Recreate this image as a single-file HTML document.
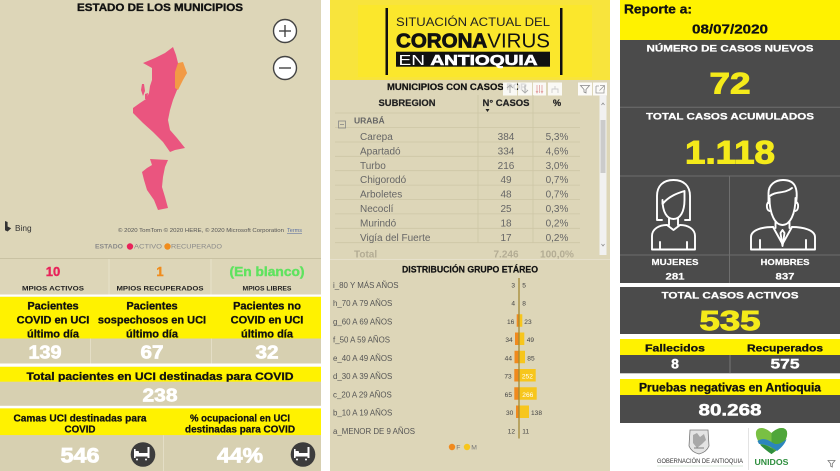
<!DOCTYPE html>
<html>
<head>
<meta charset="utf-8">
<style>
  html,body{margin:0;padding:0;background:#fff;}
  body{width:840px;height:471px;overflow:hidden;}
  svg{display:block;}
</style>
</head>
<body>
<svg width="840" height="471" viewBox="0 0 840 471" xmlns="http://www.w3.org/2000/svg" font-family="'Liberation Sans', Arial, sans-serif">
  <rect x="0" y="0" width="840" height="471" fill="#ffffff"/>

  <!-- ================= LEFT PANEL ================= -->
  <rect x="0" y="0" width="321" height="471" fill="#ddd6b8"/>
  <text x="160" y="11.2" font-size="11.2" font-weight="bold" text-anchor="middle" fill="#111" stroke="#111" stroke-width="0.35" textLength="166" lengthAdjust="spacingAndGlyphs">ESTADO DE LOS MUNICIPIOS</text>

  <!-- map -->
  <polygon points="173,47 176,55 178,63 187,73 182,80 177,90 173,100 170,110 168,120 170,130 177,138 185,148 175,150 170,152 163,142 153,132 143,123 133,113 133,108 140,103 146,99 149,93 150,86 152,80 152,68 143,63 155,58 165,53" fill="#ea557f"/>
  <polygon points="178,63 183,62 187,73 183,80 178,90 175,88 175,72" fill="#f29a45"/>
  <polygon points="142,84 144,84 145,91 143,96 141,90" fill="#ea557f"/>
  <polygon points="145,94 148,93 147,99 145,99" fill="#ea557f"/>
  <polygon points="150,159 168,160 165,167 163,177 162,187 165,197 168,208 158,210 154,200 147,190 144,180 142,172 147,168 152,165" fill="#ea557f"/>

  <!-- zoom buttons -->
  <circle cx="285" cy="31" r="11.5" fill="#ffffff" stroke="#444" stroke-width="1.4"/>
  <line x1="279" y1="31" x2="291" y2="31" stroke="#444" stroke-width="1.4"/>
  <line x1="285" y1="25" x2="285" y2="37" stroke="#444" stroke-width="1.4"/>
  <circle cx="285" cy="68" r="11.5" fill="#ffffff" stroke="#444" stroke-width="1.4"/>
  <line x1="279" y1="68" x2="291" y2="68" stroke="#444" stroke-width="1.4"/>

  <!-- bing -->
  <path d="M5,221 L7.6,222 L7.6,226.5 L11.2,228.3 L7.6,231.5 L5,230.3 Z" fill="#333"/>
  <text x="15" y="231" font-size="8.3" fill="#333">Bing</text>
  <text x="118" y="232" font-size="5.6" fill="#555" textLength="166" lengthAdjust="spacingAndGlyphs">© 2020 TomTom © 2020 HERE, © 2020 Microsoft Corporation</text>
  <text x="287" y="232" font-size="5.6" fill="#5a6fa0" text-decoration="underline" textLength="15" lengthAdjust="spacingAndGlyphs">Terms</text>

  <!-- legend -->
  <text x="95" y="248.6" font-size="6.3" font-weight="bold" fill="#8a8a8a" textLength="28" lengthAdjust="spacingAndGlyphs">ESTADO</text>
  <circle cx="130" cy="246.5" r="3.2" fill="#e8235a"/>
  <text x="134" y="248.6" font-size="6.3" fill="#8a8a8a" textLength="28" lengthAdjust="spacingAndGlyphs">ACTIVO</text>
  <circle cx="167.5" cy="246.5" r="3.2" fill="#f08c1c"/>
  <text x="171" y="248.6" font-size="6.3" fill="#8a8a8a" textLength="51" lengthAdjust="spacingAndGlyphs">RECUPERADO</text>

  <line x1="0" y1="258.5" x2="321" y2="258.5" stroke="#c9c2a3" stroke-width="1"/>

  <!-- stats row -->
  <line x1="109" y1="259" x2="109" y2="295" stroke="#e7e1ca" stroke-width="1"/>
  <line x1="211" y1="259" x2="211" y2="295" stroke="#e7e1ca" stroke-width="1"/>
  <text x="53" y="275.8" font-size="13" font-weight="bold" text-anchor="middle" fill="#e8235a" stroke="#e8235a" stroke-width="0.4">10</text>
  <text x="160" y="275.8" font-size="13" font-weight="bold" text-anchor="middle" fill="#f08c1c" stroke="#f08c1c" stroke-width="0.4">1</text>
  <text x="267" y="275.8" font-size="13.2" font-weight="bold" text-anchor="middle" fill="#5fe35f" stroke="#5fe35f" stroke-width="0.4" textLength="75" lengthAdjust="spacingAndGlyphs">(En blanco)</text>
  <text x="53" y="290.5" font-size="6.6" font-weight="bold" text-anchor="middle" fill="#222" textLength="62" lengthAdjust="spacingAndGlyphs">MPIOS ACTIVOS</text>
  <text x="160" y="290.5" font-size="6.6" font-weight="bold" text-anchor="middle" fill="#222" textLength="87" lengthAdjust="spacingAndGlyphs">MPIOS RECUPERADOS</text>
  <text x="267" y="290.5" font-size="6.6" font-weight="bold" text-anchor="middle" fill="#222" textLength="49" lengthAdjust="spacingAndGlyphs">MPIOS LIBRES</text>

  <!-- white gap + yellow1 -->
  <rect x="0" y="294.5" width="321" height="2.3" fill="#ffffff"/>
  <rect x="0" y="296.8" width="321" height="41.7" fill="#fff200"/>
  <g font-size="11" font-weight="bold" text-anchor="middle" fill="#111" stroke="#111" stroke-width="0.3">
    <text x="53" y="309.3">Pacientes</text>
    <text x="53" y="323.6">COVID en UCI</text>
    <text x="53" y="337.6">último día</text>
    <text x="152" y="309.3">Pacientes</text>
    <text x="152" y="323.6">sospechosos en UCI</text>
    <text x="152" y="337.6">último día</text>
    <text x="267" y="309.3">Pacientes no</text>
    <text x="267" y="323.6">COVID en UCI</text>
    <text x="267" y="337.6">último día</text>
  </g>
  <!-- gray1 -->
  <rect x="0" y="338.5" width="321" height="25" fill="#d7d0b1"/>
  <line x1="90.5" y1="338.5" x2="90.5" y2="363.5" stroke="#e4dec6" stroke-width="1"/>
  <line x1="211.5" y1="338.5" x2="211.5" y2="363.5" stroke="#e4dec6" stroke-width="1"/>
  <g font-size="18.5" font-weight="bold" text-anchor="middle" fill="#ffffff" stroke="#ffffff" stroke-width="0.7">
    <text x="45" y="358.3" textLength="33" lengthAdjust="spacingAndGlyphs">139</text>
    <text x="152" y="358.3" textLength="23" lengthAdjust="spacingAndGlyphs">67</text>
    <text x="267" y="358.3" textLength="23" lengthAdjust="spacingAndGlyphs">32</text>
  </g>
  <rect x="0" y="363.5" width="321" height="3.3" fill="#ffffff"/>
  <!-- yellow2 -->
  <rect x="0" y="366.8" width="321" height="15" fill="#fff200"/>
  <text x="160" y="379.8" font-size="11.2" font-weight="bold" text-anchor="middle" fill="#111" stroke="#111" stroke-width="0.3" textLength="267" lengthAdjust="spacingAndGlyphs">Total pacientes en UCI destinadas para COVID</text>
  <!-- gray2 -->
  <rect x="0" y="381.8" width="321" height="24" fill="#d7d0b1"/>
  <text x="160" y="401.7" font-size="18.7" font-weight="bold" text-anchor="middle" fill="#ffffff" stroke="#ffffff" stroke-width="0.7" textLength="35" lengthAdjust="spacingAndGlyphs">238</text>
  <rect x="0" y="405.8" width="321" height="2.6" fill="#ffffff"/>
  <!-- yellow3 -->
  <rect x="0" y="408.4" width="321" height="26.8" fill="#fff200"/>
  <g font-size="10" font-weight="bold" text-anchor="middle" fill="#111" stroke="#111" stroke-width="0.25">
    <text x="80" y="421.7" textLength="133" lengthAdjust="spacingAndGlyphs">Camas UCI destinadas para</text>
    <text x="80" y="432.6" textLength="31" lengthAdjust="spacingAndGlyphs">COVID</text>
    <text x="240" y="421.7" textLength="100" lengthAdjust="spacingAndGlyphs">% ocupacional en UCI</text>
    <text x="240" y="432.6" textLength="110" lengthAdjust="spacingAndGlyphs">destinadas para COVID</text>
  </g>
  <!-- gray3 -->
  <rect x="0" y="435.2" width="321" height="35.8" fill="#d7d0b1"/>
  <line x1="163.5" y1="435.2" x2="163.5" y2="471" stroke="#e4dec6" stroke-width="1"/>
  <text x="80" y="462.3" font-size="21" font-weight="bold" text-anchor="middle" fill="#ffffff" stroke="#ffffff" stroke-width="0.8" textLength="39" lengthAdjust="spacingAndGlyphs">546</text>
  <text x="240" y="462.3" font-size="21" font-weight="bold" text-anchor="middle" fill="#ffffff" stroke="#ffffff" stroke-width="0.8" textLength="46" lengthAdjust="spacingAndGlyphs">44%</text>
  <!-- bed icons -->
  <g>
    <circle cx="143" cy="454.5" r="12.3" fill="#3c3c3c"/>
    <rect x="135" y="453" width="13" height="3.5" fill="#fff"/>
    <rect x="135" y="451" width="4" height="2.5" rx="1" fill="#fff"/>
    <rect x="147.5" y="447" width="2" height="11" fill="#fff"/>
    <rect x="134" y="449" width="1.6" height="9" fill="#fff"/>
    <circle cx="137" cy="459.5" r="1" fill="#fff"/>
    <circle cx="146" cy="459.5" r="1" fill="#fff"/>
  </g>
  <g>
    <circle cx="303" cy="454.5" r="12.3" fill="#3c3c3c"/>
    <rect x="295" y="453" width="13" height="3.5" fill="#fff"/>
    <rect x="295" y="451" width="4" height="2.5" rx="1" fill="#fff"/>
    <rect x="307.5" y="447" width="2" height="11" fill="#fff"/>
    <rect x="294" y="449" width="1.6" height="9" fill="#fff"/>
    <circle cx="297" cy="459.5" r="1" fill="#fff"/>
    <circle cx="306" cy="459.5" r="1" fill="#fff"/>
  </g>

  <!-- ================= MIDDLE PANEL ================= -->
  <rect x="330" y="0" width="280" height="471" fill="#ddd6b8"/>
  <rect x="330" y="0" width="280" height="80" fill="#f8e43c"/>
  <rect x="358" y="5" width="234" height="72" fill="#fbe72c"/>
  <rect x="385.5" y="8" width="2.5" height="67" fill="#111"/>
  <rect x="560" y="8" width="2.5" height="67" fill="#111"/>
  <text x="396" y="26" font-size="12" fill="#222" textLength="154" lengthAdjust="spacingAndGlyphs">SITUACIÓN ACTUAL DEL</text>
  <text x="396" y="47.7" font-size="20" fill="#111" textLength="154" lengthAdjust="spacingAndGlyphs"><tspan font-weight="bold" stroke="#111" stroke-width="0.8">CORONA</tspan><tspan>VIRUS</tspan></text>
  <rect x="396" y="51.7" width="154" height="15" fill="#111"/>
  <text x="398.5" y="65" font-size="15" fill="#fff" textLength="139" lengthAdjust="spacingAndGlyphs"><tspan>EN </tspan><tspan font-weight="bold" stroke="#fff" stroke-width="0.6">ANTIOQUIA</tspan></text>

  <!-- table title -->
  <text x="387" y="90" font-size="9.3" font-weight="bold" fill="#111" stroke="#111" stroke-width="0.2" textLength="140" lengthAdjust="spacingAndGlyphs">MUNICIPIOS CON CASOS POR</text>
  <!-- overlay icons -->
  <g>
    <rect x="503" y="82.5" width="14" height="13" fill="#ffffff" opacity="0.85"/>
    <rect x="518" y="82.5" width="14" height="13" fill="#ffffff" opacity="0.85"/>
    <rect x="533" y="82.5" width="13" height="13" fill="#ffffff" opacity="0.85"/>
    <rect x="548" y="82.5" width="14" height="13" fill="#ffffff" opacity="0.85"/>
    <rect x="578" y="82.5" width="14" height="13" fill="#ffffff" opacity="0.9"/>
    <rect x="593" y="82.5" width="14" height="13" fill="#ffffff" opacity="0.9"/>
    <path d="M510,93 L510,85 M507,88 L510,85 L513,88" stroke="#aaa" stroke-width="0.9" fill="none"/>
    <path d="M525,85 L525,93 M522,90 L525,93 L528,90" stroke="#aaa" stroke-width="0.9" fill="none"/>
    <path d="M537,85 L537,93 M539.5,85 L539.5,93 M542,85 L542,93 M536,91 L537,93 L538,91 M541,91 L542,93 L543,91" stroke="#e2a0a0" stroke-width="0.8" fill="none"/>
    <path d="M555,86 L555,89 M552,93 L552,89 L558,89 L558,93" stroke="#ccc" stroke-width="0.9" fill="none"/>
    <path d="M580.5,85.5 L589.5,85.5 L586,89.5 L586,93 L584,92 L584,89.5 Z" stroke="#888" stroke-width="0.8" fill="none"/>
    <path d="M596,86 L596,93 L604,93 L604,89 M599,86 L596,86 M600,85.5 L604.5,85.5 L604.5,89.5 M604.5,85.5 L599.5,90.5" stroke="#999" stroke-width="0.8" fill="none"/>
  </g>

  <!-- table header -->
  <g font-size="9.3" font-weight="bold" fill="#222" text-anchor="middle" stroke="#222" stroke-width="0.2">
    <text x="407" y="106" textLength="57" lengthAdjust="spacingAndGlyphs">SUBREGION</text>
    <text x="506" y="106" textLength="47" lengthAdjust="spacingAndGlyphs">N° CASOS</text>
    <text x="557" y="106">%</text>
  </g>
  <path d="M485.5,109 L489.5,109 L487.5,112 Z" fill="#222"/>

  <!-- grid -->
  <g stroke="#cdc6a6" stroke-width="0.8">
    <line x1="335" y1="113" x2="580" y2="113"/>
    <line x1="335" y1="127.5" x2="580" y2="127.5"/>
    <line x1="335" y1="142" x2="580" y2="142"/>
    <line x1="335" y1="156.3" x2="580" y2="156.3"/>
    <line x1="335" y1="170.7" x2="580" y2="170.7"/>
    <line x1="335" y1="185.1" x2="580" y2="185.1"/>
    <line x1="335" y1="199.5" x2="580" y2="199.5"/>
    <line x1="335" y1="213.9" x2="580" y2="213.9"/>
    <line x1="335" y1="228.3" x2="580" y2="228.3"/>
    <line x1="335" y1="242.7" x2="580" y2="242.7"/>
    <line x1="478" y1="95" x2="478" y2="243"/>
    <line x1="533" y1="95" x2="533" y2="243"/>
  </g>

  <!-- URABA group -->
  <rect x="338.5" y="121" width="7" height="7" fill="none" stroke="#888" stroke-width="0.8"/>
  <line x1="340" y1="124.5" x2="344" y2="124.5" stroke="#888" stroke-width="0.8"/>
  <text x="354" y="123.5" font-size="8.5" font-weight="bold" fill="#666">URABÁ</text>

  <g font-size="10" fill="#666">
    <text x="360" y="140">Carepa</text>
    <text x="360" y="154.4">Apartadó</text>
    <text x="360" y="168.8">Turbo</text>
    <text x="360" y="183.2">Chigorodó</text>
    <text x="360" y="197.6">Arboletes</text>
    <text x="360" y="212">Necoclí</text>
    <text x="360" y="226.4">Murindó</text>
    <text x="360" y="240.8">Vigía del Fuerte</text>
  </g>
  <g font-size="10" fill="#666" text-anchor="middle">
    <text x="506" y="140">384</text>
    <text x="506" y="154.4">334</text>
    <text x="506" y="168.8">216</text>
    <text x="506" y="183.2">49</text>
    <text x="506" y="197.6">48</text>
    <text x="506" y="212">25</text>
    <text x="506" y="226.4">18</text>
    <text x="506" y="240.8">17</text>
    <text x="557" y="140">5,3%</text>
    <text x="557" y="154.4">4,6%</text>
    <text x="557" y="168.8">3,0%</text>
    <text x="557" y="183.2">0,7%</text>
    <text x="557" y="197.6">0,7%</text>
    <text x="557" y="212">0,3%</text>
    <text x="557" y="226.4">0,2%</text>
    <text x="557" y="240.8">0,2%</text>
  </g>
  <g font-size="10" font-weight="bold" fill="#b3ac94">
    <text x="354" y="257.3">Total</text>
    <text x="506" y="257.3" text-anchor="middle">7.246</text>
    <text x="557" y="257.3" text-anchor="middle">100,0%</text>
  </g>

  <!-- scrollbar -->
  <rect x="599.5" y="95" width="7" height="160" fill="#f1f1f1"/>
  <rect x="600.5" y="120" width="5" height="53" fill="#cbcbcb"/>
  <path d="M601.5,105 L603,103 L604.5,105" stroke="#888" stroke-width="0.7" fill="none"/>
  <path d="M601.5,244 L603,246 L604.5,244" stroke="#888" stroke-width="0.7" fill="none"/>
  <line x1="330" y1="259.5" x2="610" y2="259.5" stroke="#e6e0cb" stroke-width="1"/>

  <!-- chart -->
  <text x="470" y="272.7" font-size="9" font-weight="bold" text-anchor="middle" fill="#111" stroke="#111" stroke-width="0.2" textLength="136" lengthAdjust="spacingAndGlyphs">DISTRIBUCIÓN GRUPO ETÁREO</text>
  <g font-size="7.9" fill="#555">
    <text x="333" y="287.8">i_80 Y MÁS AÑOS</text>
    <text x="333" y="306">h_70 A 79 AÑOS</text>
    <text x="333" y="324.3">g_60 A 69 AÑOS</text>
    <text x="333" y="342.5">f_50 A 59 AÑOS</text>
    <text x="333" y="360.8">e_40 A 49 AÑOS</text>
    <text x="333" y="379">d_30 A 39 AÑOS</text>
    <text x="333" y="397.3">c_20 A 29 AÑOS</text>
    <text x="333" y="415.5">b_10 A 19 AÑOS</text>
    <text x="333" y="433.8">a_MENOR DE 9 AÑOS</text>
  </g>
  <g>
    <rect x="516.7" y="314.25" width="2.3" height="12.5" fill="#f08a1e"/>
    <rect x="519.3" y="314.25" width="3" height="12.5" fill="#f7c61c"/>
    <rect x="515" y="332.5" width="4" height="12.5" fill="#f08a1e"/>
    <rect x="519.3" y="332.5" width="5" height="12.5" fill="#f7c61c"/>
    <rect x="514.5" y="350.75" width="4.5" height="12.5" fill="#f08a1e"/>
    <rect x="519.3" y="350.75" width="5.7" height="12.5" fill="#f7c61c"/>
    <rect x="514.3" y="369" width="4.7" height="12.5" fill="#f08a1e"/>
    <rect x="519.3" y="369" width="16.4" height="12.5" fill="#f7c61c"/>
    <rect x="514.3" y="387.25" width="4.7" height="12.5" fill="#f08a1e"/>
    <rect x="519.3" y="387.25" width="17.4" height="12.5" fill="#f7c61c"/>
    <rect x="516" y="405.5" width="3" height="12.5" fill="#f08a1e"/>
    <rect x="519.3" y="405.5" width="9.7" height="12.5" fill="#f7c61c"/>
  </g>
  <line x1="519" y1="278" x2="519" y2="438.5" stroke="#a38a34" stroke-width="1.3"/>
  <g font-size="6.6" fill="#444" text-anchor="end">
    <text x="515" y="287.3">3</text>
    <text x="515" y="305.5">4</text>
    <text x="514.3" y="323.8">16</text>
    <text x="512.7" y="342">34</text>
    <text x="512" y="360.3">44</text>
    <text x="511.7" y="378.5">73</text>
    <text x="512" y="396.8">65</text>
    <text x="513.3" y="415">30</text>
    <text x="515" y="433.3">12</text>
  </g>
  <g font-size="6.6" fill="#444">
    <text x="522.3" y="287.3">5</text>
    <text x="522.3" y="305.5">8</text>
    <text x="524.3" y="323.8">23</text>
    <text x="526.7" y="342">49</text>
    <text x="527.3" y="360.3">85</text>
    <text x="521.9" y="378.5" fill="#ffffff">252</text>
    <text x="522.3" y="396.8" fill="#ffffff">266</text>
    <text x="531" y="415">138</text>
    <text x="522.3" y="433.3">11</text>
  </g>
  <circle cx="452" cy="447" r="3.2" fill="#f08a1e"/>
  <text x="456.3" y="449.5" font-size="6.8" fill="#777">F</text>
  <circle cx="467" cy="447" r="3.2" fill="#f7c61c"/>
  <text x="471.3" y="449.5" font-size="6.8" fill="#777">M</text>

  <!-- ================= RIGHT PANEL ================= -->
  <rect x="620" y="0" width="220" height="40" fill="#fff200"/>
  <text x="624" y="13.3" font-size="13" font-weight="bold" fill="#111" stroke="#111" stroke-width="0.3" textLength="68" lengthAdjust="spacingAndGlyphs">Reporte a:</text>
  <text x="730" y="33.3" font-size="13" font-weight="bold" fill="#111" stroke="#111" stroke-width="0.3" text-anchor="middle" textLength="76" lengthAdjust="spacingAndGlyphs">08/07/2020</text>

  <rect x="620" y="40" width="220" height="243" fill="#4b4b4b"/>
  <text x="730" y="51.7" font-size="9.5" font-weight="bold" fill="#fff" stroke="#fff" stroke-width="0.25" text-anchor="middle" textLength="167" lengthAdjust="spacingAndGlyphs">NÚMERO DE CASOS NUEVOS</text>
  <text x="730" y="93.3" font-size="30" font-weight="bold" fill="#f4ea1a" stroke="#f4ea1a" stroke-width="1" text-anchor="middle" textLength="41" lengthAdjust="spacingAndGlyphs">72</text>
  <line x1="620" y1="107.3" x2="840" y2="107.3" stroke="#6e6e6e" stroke-width="1"/>
  <text x="730" y="119.3" font-size="9.5" font-weight="bold" fill="#fff" stroke="#fff" stroke-width="0.25" text-anchor="middle" textLength="168" lengthAdjust="spacingAndGlyphs">TOTAL CASOS ACUMULADOS</text>
  <text x="730" y="163.3" font-size="32" font-weight="bold" fill="#f4ea1a" stroke="#f4ea1a" stroke-width="1" text-anchor="middle" textLength="90" lengthAdjust="spacingAndGlyphs">1.118</text>
  <line x1="620" y1="176" x2="840" y2="176" stroke="#6e6e6e" stroke-width="1"/>
  <line x1="729.5" y1="176" x2="729.5" y2="283" stroke="#6e6e6e" stroke-width="1"/>
  <line x1="620" y1="255" x2="840" y2="255" stroke="#6e6e6e" stroke-width="1"/>

  <!-- woman icon -->
  <g fill="none" stroke="#ffffff" stroke-width="1.9" stroke-linejoin="round" stroke-linecap="round">
    <path d="M662,220 L657,220 L657,196 C657,186 663,180 673.5,180 C684,180 690,186 690,196 L690,220 L685,220"/>
    <path d="M662.5,200 C662.5,212 667,219 673.5,219 C680,219 684.5,212 684.5,200 L684.5,191 C678,193 669,196 662.5,204 Z"/>
    <path d="M669,218.5 L669,225 M678,218.5 L678,225"/>
    <path d="M667,225 L673.5,230 L680,225"/>
    <path d="M652,249.5 L652,236 C652,229 659,225 667,225 M680,225 C688,225 695,229 695,236 L695,249.5 L652,249.5"/>
    <path d="M660,242 L660,249.5 M687,242 L687,249.5"/>
  </g>
  <!-- man icon -->
  <g fill="none" stroke="#ffffff" stroke-width="1.9" stroke-linejoin="round" stroke-linecap="round">
    <path d="M768.5,203 L768.5,193 C768.5,185 775,180 783,180 C789,180 793,182 795,186 C797,190 797,197 796,203"/>
    <path d="M770,196 C775,191 785,194 792,188"/>
    <path d="M769.5,198 C769.5,214 775,225 782.5,225 C790,225 795.5,214 795.5,198"/>
    <path d="M769.5,202 C766,202 766,210 769.5,211 M795.5,202 C799,202 799,210 795.5,211"/>
    <path d="M775.5,222 L775.5,228 M789.5,222 L789.5,228"/>
    <path d="M751,249.5 L751,237 C751,230 762,227 773,227 M792,227 C803,227 815,230 815,237 L815,249.5 L751,249.5"/>
    <path d="M773,227 L782.5,244 L792,227"/>
    <path d="M780.5,233 L782.5,230 L784.5,233 L782.5,246 Z"/>
    <path d="M760,240 L760,249.5 M806,240 L806,249.5"/>
  </g>

  <text x="675" y="265" font-size="8.5" font-weight="bold" fill="#fff" stroke="#fff" stroke-width="0.2" text-anchor="middle" textLength="47" lengthAdjust="spacingAndGlyphs">MUJERES</text>
  <text x="785" y="265" font-size="8.5" font-weight="bold" fill="#fff" stroke="#fff" stroke-width="0.2" text-anchor="middle" textLength="49" lengthAdjust="spacingAndGlyphs">HOMBRES</text>
  <text x="675" y="279.3" font-size="9.5" font-weight="bold" fill="#fff" stroke="#fff" stroke-width="0.2" text-anchor="middle" textLength="19" lengthAdjust="spacingAndGlyphs">281</text>
  <text x="785" y="279.3" font-size="9.5" font-weight="bold" fill="#fff" stroke="#fff" stroke-width="0.2" text-anchor="middle" textLength="19" lengthAdjust="spacingAndGlyphs">837</text>

  <rect x="620" y="287" width="220" height="47" fill="#4b4b4b"/>
  <text x="730" y="298.3" font-size="9.5" font-weight="bold" fill="#fff" stroke="#fff" stroke-width="0.25" text-anchor="middle" textLength="137" lengthAdjust="spacingAndGlyphs">TOTAL CASOS ACTIVOS</text>
  <text x="730" y="330" font-size="28" font-weight="bold" fill="#f4ea1a" stroke="#f4ea1a" stroke-width="1" text-anchor="middle" textLength="61" lengthAdjust="spacingAndGlyphs">535</text>

  <rect x="620" y="339" width="220" height="16" fill="#fff200"/>
  <text x="675" y="351.7" font-size="10.5" font-weight="bold" fill="#111" stroke="#111" stroke-width="0.3" text-anchor="middle" textLength="60" lengthAdjust="spacingAndGlyphs">Fallecidos</text>
  <text x="785" y="351.7" font-size="10.5" font-weight="bold" fill="#111" stroke="#111" stroke-width="0.3" text-anchor="middle" textLength="76" lengthAdjust="spacingAndGlyphs">Recuperados</text>
  <rect x="620" y="355" width="220" height="18.3" fill="#4b4b4b"/>
  <line x1="730" y1="355" x2="730" y2="373.3" stroke="#777" stroke-width="1"/>
  <text x="675" y="368.3" font-size="14" font-weight="bold" fill="#fff" stroke="#fff" stroke-width="0.4" text-anchor="middle">8</text>
  <text x="785" y="368.3" font-size="14" font-weight="bold" fill="#fff" stroke="#fff" stroke-width="0.4" text-anchor="middle" textLength="29" lengthAdjust="spacingAndGlyphs">575</text>

  <rect x="620" y="379" width="220" height="16" fill="#fff200"/>
  <text x="730" y="391.7" font-size="11.5" font-weight="bold" fill="#111" stroke="#111" stroke-width="0.3" text-anchor="middle" textLength="182" lengthAdjust="spacingAndGlyphs">Pruebas negativas en Antioquia</text>
  <rect x="620" y="395" width="220" height="28" fill="#4b4b4b"/>
  <text x="730" y="415.7" font-size="17" font-weight="bold" fill="#fff" stroke="#fff" stroke-width="0.5" text-anchor="middle" textLength="63" lengthAdjust="spacingAndGlyphs">80.268</text>

  <!-- logos -->
  <g>
    <path d="M690,430 L708,430 L709,446 C707,451 703,453 699,454 C695,453 691,451 689,446 Z" fill="#e4e4e4" stroke="#777" stroke-width="0.8"/>
    <path d="M693,435 L697,433 L700,437 L704,434 L706,440 L702,444 L697,448 L693,443 Z" fill="#999" opacity="0.8"/>
    <path d="M694,448 L704,448" stroke="#666" stroke-width="0.8"/>
  </g>
  <text x="657" y="463" font-size="6.4" fill="#333" textLength="86" lengthAdjust="spacingAndGlyphs">GOBERNACIÓN DE ANTIOQUIA</text>
  <line x1="657" y1="466" x2="743" y2="466" stroke="#cfe3cf" stroke-width="0.8"/>
  <line x1="748.5" y1="428" x2="748.5" y2="470" stroke="#e3e3e3" stroke-width="1"/>
  <g>
    <path d="M771.5,454 C761,447 755,439 756,432 C757,427 764,426 771.5,433 C779,426 786,427 787,432 C788,439 782,447 771.5,454 Z" fill="#79c043"/>
    <path d="M771.5,433 C779,426 786,427 787,432 C788,439 782,447 771.5,454 Z" fill="#4fa63a"/>
    <path d="M757.5,441 C763,437 769,440 773,443 C778,446 783,442 786.5,439 C785,444 781,448 777,451 C772,447 765,444 759,444 Z" fill="#2c86bd"/>
    <path d="M760,444.5 C766,444 771,448 775,451 L771.5,454 C767,451 763,448 760,444.5 Z" fill="#2f8f3f"/>
  </g>
  <text x="754.5" y="465" font-size="8.5" font-weight="bold" fill="#2f8f3f" textLength="34" lengthAdjust="spacingAndGlyphs">UNIDOS</text>
  <path d="M828,460.5 L835,460.5 L832.3,463.8 L832.3,467 L830.7,466.2 L830.7,463.8 Z" fill="none" stroke="#777" stroke-width="0.8"/>
</svg>
</body>
</html>
